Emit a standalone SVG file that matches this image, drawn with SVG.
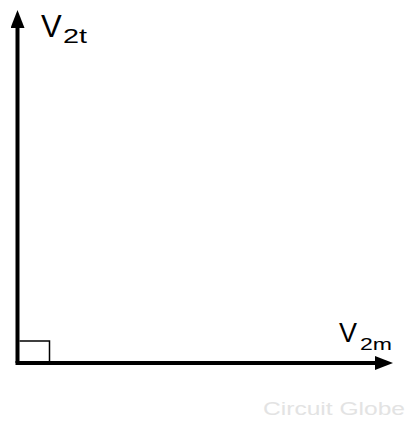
<svg xmlns="http://www.w3.org/2000/svg" width="410" height="424" viewBox="0 0 410 424">
<style>
.axis{stroke:#000;stroke-width:4;fill:none}
.lbl{font-family:"Liberation Sans",Arial,sans-serif;fill:#000}
.wm{font-family:"Liberation Sans",Arial,sans-serif;fill:#e3e3e3;font-size:18px}
</style>
<defs>
<marker id="ah" markerWidth="18" markerHeight="14" refX="8" refY="7" orient="auto" markerUnits="userSpaceOnUse">
<path d="M0,0 L18,7 L0,14 Z" fill="#000"/>
</marker>
</defs>
<rect width="410" height="424" fill="#fff"/>
<g id="connectors">
<line class="axis" x1="17.5" y1="363" x2="17.5" y2="20" marker-end="url(#ah)"/>
<line class="axis" x1="15.5" y1="363" x2="383" y2="363" marker-end="url(#ah)"/>
<path d="M19.5,341 H49.5 V361" fill="none" stroke="#000" stroke-width="1.5"/>
</g>
<g id="V2t">
<text class="lbl" x="41" y="37" font-size="31">V</text>
<text class="lbl" x="63" y="43" font-size="20" textLength="24" lengthAdjust="spacingAndGlyphs">2t</text>
</g>
<g id="V2m">
<text class="lbl" x="339" y="342" font-size="27">V</text>
<text class="lbl" x="360" y="350" font-size="17" textLength="32" lengthAdjust="spacingAndGlyphs">2m</text>
</g>
<text class="wm" x="263" y="415" textLength="142" lengthAdjust="spacingAndGlyphs">Circuit Globe</text>
</svg>
